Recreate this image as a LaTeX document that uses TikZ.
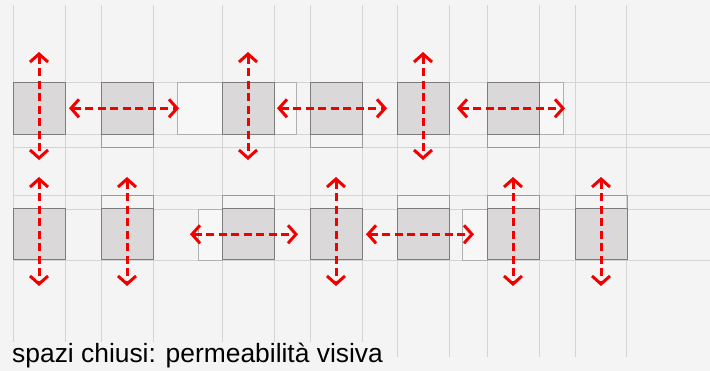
\documentclass[tikz,border=0pt]{standalone}
\usepackage{fontspec}
\setmainfont{Liberation Sans}
\usetikzlibrary{arrows.meta}
\definecolor{bgc}{HTML}{F4F4F4}
\definecolor{gridc}{HTML}{D4D4D4}
\definecolor{roomfill}{HTML}{DAD8D8}
\definecolor{roomedge}{HTML}{7C7C7C}
\definecolor{stripedge}{HTML}{9A9A9A}
\definecolor{openfill}{HTML}{F7F7F7}
\definecolor{openedge}{HTML}{B0B0B0}
\definecolor{arrred}{HTML}{F20000}
\tikzset{
  gridline/.style={draw=gridc, line width=0.9pt},
  room/.style={draw=roomedge, fill=roomfill, line width=1pt, minimum width=52pt, inner sep=0pt, outer sep=0pt},
  openbox/.style={draw=openedge, fill=openfill, line width=0.8pt, inner sep=0pt, outer sep=0pt},
  strip/.style={draw=#1, line width=0.8pt, inner sep=0pt, outer sep=0pt, minimum width=52pt},
  view/.style={draw=arrred, line width=3pt, dash pattern=on 8pt off 4.5pt,
    {Straight Barb[length=8pt,width=18pt,line width=3pt]}-{Straight Barb[length=8pt,width=18pt,line width=3pt]}},
  caption/.style={font=\fontsize{26.4}{30}\selectfont, text=black, fill=bgc, inner sep=2pt, anchor=base west}
}
\begin{document}
\begin{tikzpicture}[x=1pt,y=-1pt]
\fill[bgc] (0,0) rectangle (710,371);
\useasboundingbox (0,0) rectangle (710,371);
% grid
\foreach \gx in {13,65,101,153,222,274,310,362,397,449,487,539,575,626}
  \draw[gridline] (\gx,5) -- (\gx,357);
\foreach \gy in {82.7,134.3,147,195,209,260}
  \draw[gridline] (13,\gy) -- (710,\gy);
% row 1 strips below rooms
\foreach \cx/\sc [count=\i] in {39/gridc,127/stripedge,248/gridc,336/stripedge,423/gridc,513/stripedge}
  \node[strip=\sc, minimum height=12.7pt] (s1\i) at (\cx,140.65) {};
% row 2 strips above rooms
\foreach \cx/\sc [count=\i] in {39/gridc,127/stripedge,248/stripedge,336/gridc,423/stripedge,513/stripedge,601/stripedge}
  \node[strip=\sc, minimum height=14pt] (s2\i) at (\cx,202) {};
% open boxes row 1
\node[openbox, minimum width=45pt, minimum height=51.6pt] (o1a) at (199.5,108.5) {};
\node[openbox, minimum width=22pt, minimum height=51.6pt] (o1b) at (285,108.5) {};
\node[openbox, minimum width=24pt, minimum height=51.6pt] (o1c) at (551,108.5) {};
% open boxes row 2
\node[openbox, minimum width=24pt, minimum height=51pt] (o2a) at (210,234.5) {};
\node[openbox, minimum width=25pt, minimum height=51pt] (o2b) at (474.5,234.5) {};
% rooms row 1
\foreach \cx [count=\i] in {39,127,248,336,423,513}
  \node[room, minimum height=51.6pt] (r1\i) at (\cx,108.5) {};
% rooms row 2
\foreach \cx [count=\i] in {39,127,248,336,423,513,601}
  \node[room, minimum height=51pt] (r2\i) at (\cx,234.5) {};
% view arrows row 1
\foreach \cx [count=\i] in {39,248,423} {
  \coordinate (v1t\i) at (\cx,52);
  \coordinate (v1b\i) at (\cx,160);
  \draw[view] (v1t\i) -- (v1b\i);
}
\foreach \xa/\xb [count=\i] in {69/179,277/387,457/565} {
  \coordinate (h1l\i) at (\xa,108.3);
  \coordinate (h1r\i) at (\xb,108.3);
  \draw[view] (h1l\i) -- (h1r\i);
}
% view arrows row 2
\foreach \cx [count=\i] in {39,127,336,513,601} {
  \coordinate (v2t\i) at (\cx,177);
  \coordinate (v2b\i) at (\cx,286);
  \draw[view] (v2t\i) -- (v2b\i);
}
\foreach \xa/\xb [count=\i] in {190/298,366/474} {
  \coordinate (h2l\i) at (\xa,234.3);
  \coordinate (h2r\i) at (\xb,234.3);
  \draw[view] (h2l\i) -- (h2r\i);
}
% caption
\node[caption] (cap) at (10,363) {spazi chiusi: permeabilità visiva};
\end{tikzpicture}
\end{document}
